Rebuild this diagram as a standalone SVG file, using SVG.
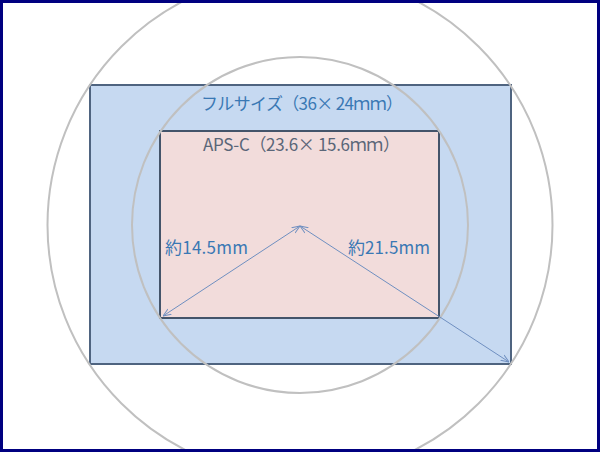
<svg xmlns="http://www.w3.org/2000/svg" width="600" height="452" viewBox="0 0 600 452">
<defs>
<style>
.circ{fill:none;stroke:#c0c0c0;stroke-width:2}
.lbl{font-family:"Noto Sans CJK JP","Noto Sans",sans-serif;font-size:17px}
.dim{stroke:#6f8fc0;stroke-width:1;fill:none;marker-start:url(#ah);marker-end:url(#ah)}
</style>
<marker id="ah" viewBox="0 0 10 10" refX="10" refY="5" markerWidth="8" markerHeight="8" orient="auto-start-reverse" markerUnits="userSpaceOnUse">
<path d="M0,1 L10,5 L0,9" fill="none" stroke="#6f8fc0" stroke-width="1.2"/>
</marker>
<clipPath id="frame"><rect x="3" y="3" width="594" height="446"/></clipPath>
</defs>
<rect x="0" y="0" width="600" height="452" fill="#ffffff"/>
<g id="full-frame">
<rect x="90" y="85" width="421" height="279" fill="#c6d9f1" stroke="#4f6480" stroke-width="2"/>
<text class="lbl" x="201" y="110" textLength="202" fill="#3a78b4">フルサイズ（36× 24ｍｍ）</text>
</g>
<g id="aps-c">
<rect x="160" y="131" width="279" height="187" fill="#f2dcdb" stroke="#44546a" stroke-width="2"/>
<text class="lbl" x="203" y="151" textLength="197" fill="#5a6678">APS-C（23.6× 15.6ｍｍ）</text>
</g>
<g id="circles" clip-path="url(#frame)">
<circle class="circ" cx="300" cy="225" r="252.5"/>
<circle class="circ" cx="300" cy="225" r="168"/>
</g>
<g id="connectors">
<line class="dim" x1="300" y1="226" x2="163" y2="316"/>
<line class="dim" x1="300" y1="226" x2="509" y2="362"/>
</g>
<g id="labels">
<text class="lbl" x="165" y="254" textLength="83" fill="#3a78b4">約14.5mm</text>
<text class="lbl" x="348" y="254" textLength="82" fill="#3a78b4">約21.5mm</text>
</g>
<rect x="1.5" y="1.5" width="597" height="449" fill="none" stroke="#000080" stroke-width="3"/>
</svg>
